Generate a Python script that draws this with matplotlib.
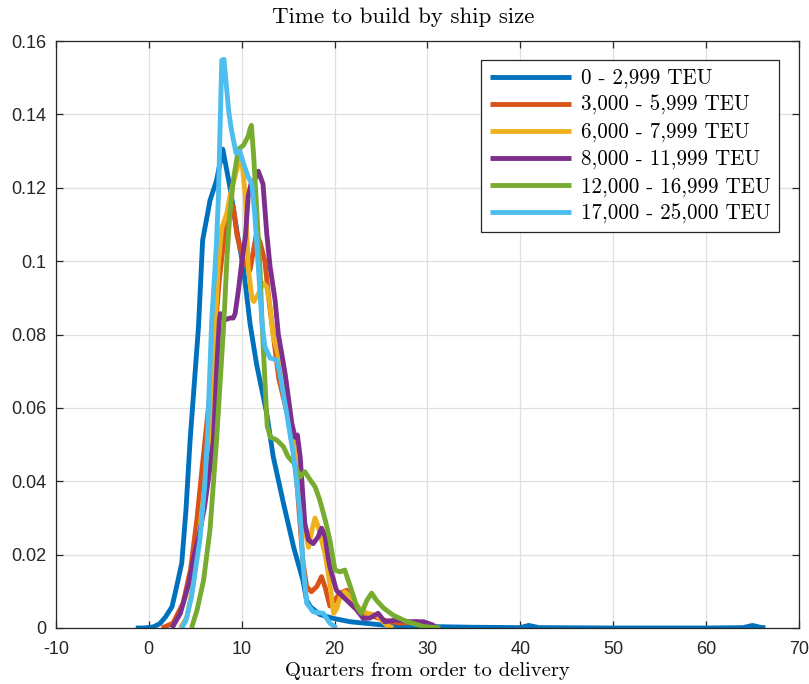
import matplotlib
matplotlib.use("Agg")
import matplotlib.pyplot as plt

title = "Time to build by ship size"
xlabel = "Quarters from order to delivery"
labels = ["0 - 2,999 TEU", "3,000 - 5,999 TEU", "6,000 - 7,999 TEU",
          "8,000 - 11,999 TEU", "12,000 - 16,999 TEU", "17,000 - 25,000 TEU"]
colors = ["#0072BD", "#D95319", "#EDB120", "#7E2F8E", "#77AC30", "#4DBEEE"]

x_ticks = [-10, 0, 10, 20, 30, 40, 50, 60, 70]
y_ticks = [0, 0.02, 0.04, 0.06, 0.08, 0.10, 0.12, 0.14, 0.16]
y_tick_labels = ["0", "0.02", "0.04", "0.06", "0.08", "0.1", "0.12", "0.14", "0.16"]

x_blue = [-1.4, -0.5, 0.5, 1.2, 1.8, 2.5, 3.0, 3.55, 4.0, 4.45, 5.0, 5.35, 5.8, 6.6, 7.3, 7.97,
          8.75, 9.5, 10.2, 10.9, 11.6, 12.7, 13.4, 14.5, 15.6, 16.6, 17.0, 17.4, 18.4, 19.9,
          21.7, 25.3, 30, 35, 40, 40.9, 42, 50, 60, 64, 65, 66, 66.4]
y_blue = [0, 0, 0.0003, 0.0012, 0.003, 0.0058, 0.0113, 0.0177, 0.032, 0.0512, 0.07, 0.082, 0.1057,
          0.1166, 0.122, 0.1305, 0.120, 0.108, 0.098, 0.083, 0.072, 0.0585, 0.0467, 0.034, 0.022,
          0.013, 0.0075, 0.0058, 0.0037, 0.0026, 0.0017, 0.0008, 0.0004, 0.0002, 0.0001, 0.0007,
          0.0001, 0.0, 0.0, 0.0001, 0.0007, 0.0001, 0.0001]

x_orange = [1.4, 2.6, 3.7, 4.5, 5.2, 5.8, 6.5, 7.1, 7.6, 8.0, 8.4, 8.8, 9.1, 9.5, 10.2, 10.9,
            11.6, 12.0, 12.5, 13.0, 13.5, 14.0, 14.85, 15.2, 15.6, 16.0, 16.3, 16.6, 17.0, 17.5,
            18.1, 18.6, 19.0, 19.5, 20.0, 20.6, 21.3, 22.0, 22.9, 23.8, 25.25, 27.0, 28.8, 29.9, 30.5]
y_orange = [0, 0.0013, 0.0068, 0.016, 0.03, 0.045, 0.062, 0.08, 0.095, 0.104, 0.110, 0.114, 0.115,
            0.107, 0.100, 0.0975, 0.1076, 0.105, 0.100, 0.088, 0.078, 0.068, 0.059, 0.0576, 0.05,
            0.038, 0.028, 0.018, 0.0113, 0.0099, 0.0113, 0.014, 0.011, 0.006, 0.0075, 0.0095,
            0.0103, 0.0076, 0.0044, 0.0035, 0.0022, 0.0013, 0.0017, 0.0008, 0]

x_yellow = [3.4, 4.1, 4.8, 5.4, 6.0, 6.8, 7.1, 7.5, 7.86, 8.4, 8.75, 9.65, 10.0, 10.4, 10.7, 11.1,
            11.3, 11.8, 12.3, 12.7, 13.06, 13.4, 13.8, 14.5, 15.0, 15.6, 16.3, 16.8, 17.2, 17.5,
            17.9, 18.25, 18.6, 19.0, 19.5, 19.9, 20.2, 20.6, 21.1, 21.7, 22.4, 23.5, 24.5, 25.6, 26.3]
y_yellow = [0, 0.003, 0.012, 0.025, 0.038, 0.0512, 0.08, 0.0994, 0.109, 0.113, 0.1178, 0.1266,
            0.128, 0.1175, 0.0985, 0.090, 0.089, 0.091, 0.094, 0.093, 0.0876, 0.0794, 0.0757,
            0.0676, 0.0585, 0.0494, 0.0376, 0.027, 0.022, 0.026, 0.030, 0.0276, 0.024, 0.020,
            0.012, 0.004, 0.005, 0.0085, 0.0099, 0.0085, 0.0058, 0.004, 0.0035, 0.0008, 0]

x_purple = [2.5, 3.4, 4.3, 4.9, 5.4, 6.0, 6.5, 6.96, 7.3, 7.6, 7.7, 8.2, 8.75, 9.1, 9.3, 9.65,
            10.0, 10.4, 10.7, 11.0, 11.3, 11.8, 12.3, 12.7, 13.06, 13.6, 13.95, 14.3, 14.7, 15.4,
            15.75, 16.0, 16.3, 16.8, 17.2, 17.7, 18.25, 18.6, 19.0, 19.3, 19.5, 20.2, 21.3, 22.4,
            23.1, 23.8, 24.7, 25.4, 26.7, 28.1, 29.6, 30.6, 31.0]
y_purple = [0, 0.004, 0.012, 0.02, 0.025, 0.033, 0.042, 0.0512, 0.07, 0.084, 0.0857, 0.084, 0.0845,
            0.0845, 0.0857, 0.092, 0.0994, 0.1066, 0.1175, 0.121, 0.1215, 0.1245, 0.121, 0.1076,
            0.0985, 0.0894, 0.080, 0.075, 0.069, 0.0558, 0.052, 0.0526, 0.0467, 0.0285, 0.024,
            0.023, 0.0249, 0.0272, 0.0249, 0.0194, 0.0167, 0.0103, 0.0076, 0.0049, 0.0026, 0.0027,
            0.004, 0.0017, 0.0022, 0.0017, 0.0017, 0.0008, 0]

x_green = [4.6, 5.2, 5.9, 6.6, 7.3, 8.1, 8.4, 8.7, 9.1, 9.65, 10.2, 10.7, 10.9, 11.05, 11.3, 11.6,
           12.0, 12.2, 12.5, 12.75, 13.1, 13.8, 14.5, 15.0, 15.6, 16.3, 16.8, 17.4, 17.9, 18.4,
           19.0, 19.5, 20.05, 20.6, 21.1, 21.7, 22.4, 22.9, 23.5, 24.0, 24.5, 25.3, 26.3, 27.8,
           29.6, 31.4]
y_green = [0, 0.0049, 0.013, 0.027, 0.0512, 0.084, 0.100, 0.112, 0.122, 0.1305, 0.1316, 0.134,
           0.136, 0.137, 0.1284, 0.115, 0.0967, 0.083, 0.0676, 0.055, 0.052, 0.0512, 0.0494,
           0.0467, 0.045, 0.0412, 0.0426, 0.0403, 0.0385, 0.035, 0.0294, 0.024, 0.0158, 0.0153,
           0.0158, 0.0113, 0.0058, 0.004, 0.0076, 0.0095, 0.0076, 0.0054, 0.0035, 0.0017, 0.0004, 0]

x_lblue = [3.55, 4.0, 4.6, 5.5, 6.0, 6.3, 6.78, 7.1, 7.3, 7.5, 7.67, 7.86, 8.1, 8.4, 8.6, 8.9,
           9.4, 9.8, 10.2, 10.7, 11.1, 11.4, 11.6, 12.2, 12.5, 13.06, 13.8, 14.1, 14.85, 15.6,
           16.3, 16.6, 17.0, 17.7, 18.8, 19.5, 20.2]
y_lblue = [0, 0.002, 0.0085, 0.024, 0.038, 0.0512, 0.084, 0.0967, 0.1057, 0.1175, 0.1357, 0.1548,
           0.155, 0.1466, 0.141, 0.1357, 0.1294, 0.130, 0.1266, 0.123, 0.121, 0.113, 0.1057, 0.083,
           0.0767, 0.0736, 0.073, 0.0695, 0.0585, 0.0467, 0.031, 0.0177, 0.0068, 0.0044, 0.004,
           0.0013, 0]

series_x = [x_blue, x_orange, x_yellow, x_purple, x_green, x_lblue]
series_y = [y_blue, y_orange, y_yellow, y_purple, y_green, y_lblue]

fig = plt.figure(figsize=(8.09, 6.84), dpi=100)
ax = fig.add_axes([55.9 / 809, 56 / 684, 743 / 809, 587 / 684])

for xs, ys, c, lab in zip(series_x, series_y, colors, labels):
    ax.plot(xs, ys, color=c, lw=3.5, label=lab, solid_joinstyle="round", solid_capstyle="butt")

ax.set_xlim(-10, 70)
ax.set_ylim(0, 0.16)
ax.set_xticks(x_ticks)
ax.set_xticklabels([str(t) for t in x_ticks])
ax.set_yticks(y_ticks)
ax.set_yticklabels(y_tick_labels)
ax.grid(True, color="#e0e0e0", lw=0.9)
ax.set_axisbelow(True)
for s in ax.spines.values():
    s.set_color("#262626")
    s.set_linewidth(0.9)
ax.tick_params(direction="in", top=True, right=True, length=5, width=0.9, color="#262626",
               labelsize=13, labelcolor="#262626")
ax.tick_params(axis="y", pad=7)
ax.tick_params(axis="x", pad=9)
for lbl in ax.get_xticklabels() + ax.get_yticklabels():
    lbl.set_family("Liberation Sans")

fig.text(403.5 / 809, 1 - 17 / 684, title, family="cmr10", fontsize=16.5,
         ha="center", va="center", color="black")
ax.set_xlabel(xlabel, family="cmr10", fontsize=14.8, labelpad=3)

leg = ax.legend(loc="upper right", bbox_to_anchor=((779 - 55.9) / 743, (628 - 60) / 587),
                borderaxespad=0, prop={"family": "cmr10", "size": 15.1}, frameon=True,
                fancybox=False, framealpha=1, edgecolor="#262626", handlelength=3.86,
                handletextpad=0.48, labelspacing=0.34, borderpad=0.4)
leg.get_frame().set_linewidth(0.9)

fig.savefig("out.png", dpi=100)
